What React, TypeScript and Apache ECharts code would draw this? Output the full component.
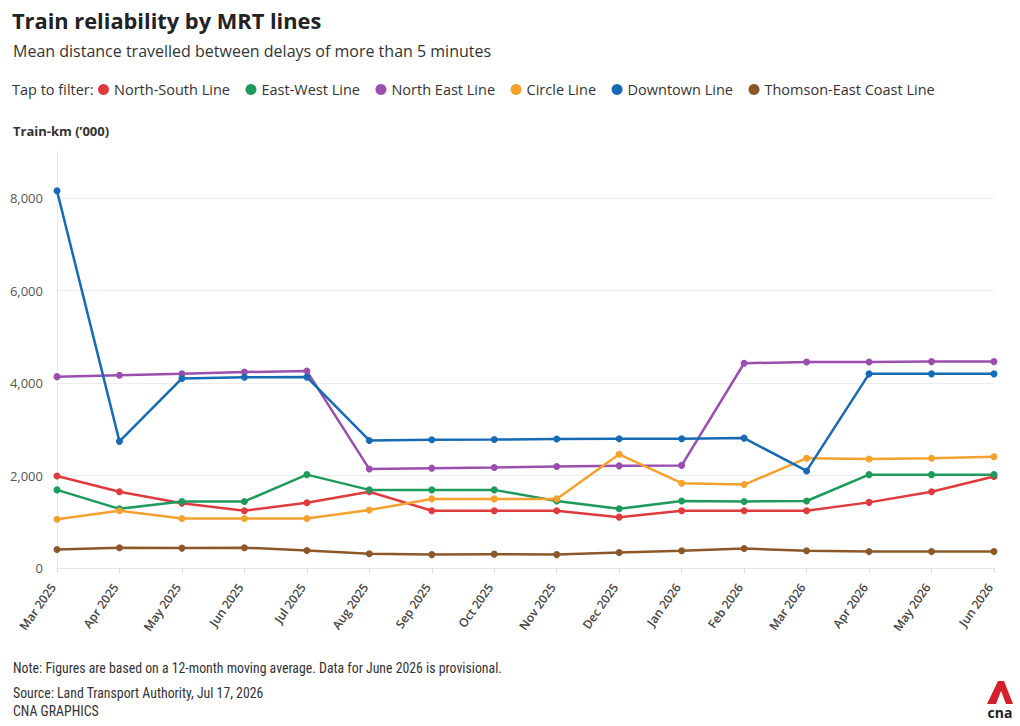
import { useEffect, useRef } from "react";
import * as echarts from "echarts";

const months = [
  "Mar 2025", "Apr 2025", "May 2025", "Jun 2025", "Jul 2025", "Aug 2025", "Sep 2025", "Oct 2025",
  "Nov 2025", "Dec 2025", "Jan 2026", "Feb 2026", "Mar 2026", "Apr 2026", "May 2026", "Jun 2026",
];

const northSouth = [1990, 1650, 1400, 1240, 1410, 1650, 1240, 1240, 1240, 1100, 1240, 1240, 1240, 1420, 1650, 1980];
const eastWest = [1690, 1280, 1440, 1440, 2020, 1690, 1690, 1690, 1450, 1280, 1450, 1440, 1450, 2020, 2020, 2020];
const northEast = [4140, 4170, 4200, 4240, 4260, 2140, 2160, 2175, 2195, 2210, 2220, 4430, 4455, 4455, 4465, 4465];
const circle = [1055, 1240, 1070, 1070, 1070, 1255, 1495, 1495, 1495, 2460, 1835, 1805, 2375, 2360, 2375, 2405];
const downtown = [8160, 2740, 4100, 4125, 4130, 2760, 2775, 2780, 2790, 2795, 2795, 2810, 2100, 4200, 4200, 4200];
const thomsonEastCoast = [400, 440, 430, 440, 380, 310, 290, 300, 290, 335, 375, 420, 375, 355, 355, 355];

const seriesNames = [
  "North-South Line", "East-West Line", "North East Line", "Circle Line", "Downtown Line", "Thomson-East Coast Line",
];
const seriesValues = [northSouth, eastWest, northEast, circle, downtown, thomsonEastCoast];
const colors = ["#df3a3d", "#1d9a5c", "#9a4fae", "#f4a12e", "#166bb4", "#8c5828"];

const yTicks = { min: 0, max: 9000, interval: 2000 };

const FONT = "'Open Sans', 'Noto Sans', sans-serif";
const NARROW = "'Liberation Sans Narrow', 'Roboto Condensed', Roboto, sans-serif";

export default function App() {
  const ref = useRef<HTMLDivElement>(null);

  useEffect(() => {
    if (!ref.current) return;
    const chart = echarts.init(ref.current, undefined, { renderer: "svg" });

    chart.setOption({
      animation: false,
      backgroundColor: "#fff",
      textStyle: { fontFamily: FONT },
      color: colors,
      title: [
        { text: "Train reliability by MRT lines", left: 7, top: 4, textStyle: { fontSize: 21.8, fontWeight: "bold", color: "#222", fontFamily: FONT } },
        { text: "Mean distance travelled between delays of more than 5 minutes", left: 8, top: 38, textStyle: { fontSize: 16, fontWeight: "normal", color: "#333", fontFamily: FONT } },
        { text: "Tap to filter:", left: 7, top: 77, textStyle: { fontSize: 14.5, fontWeight: "normal", color: "#333", fontFamily: FONT } },
        { text: "Train-km (’000)", left: 8, top: 119, textStyle: { fontSize: 13, fontWeight: "bold", color: "#333", fontFamily: FONT } },
        { text: "Note: Figures are based on a 12-month moving average. Data for June 2026 is provisional.", left: 8, top: 656, textStyle: { fontSize: 13.8, fontWeight: "normal", color: "#333", fontFamily: NARROW } },
        { text: "Source: Land Transport Authority, Jul 17, 2026", left: 8, top: 681, textStyle: { fontSize: 13.8, fontWeight: "normal", color: "#333", fontFamily: NARROW } },
        { text: "CNA GRAPHICS", left: 8, top: 699, textStyle: { fontSize: 13.8, fontWeight: "normal", color: "#333", fontFamily: NARROW } },
      ],
      legend: {
        left: 93,
        top: 77,
        icon: "circle",
        itemWidth: 11,
        itemHeight: 11,
        itemGap: 15.5,
        textStyle: { fontSize: 14.5, color: "#333", fontFamily: FONT },
        data: seriesNames,
      },
      grid: { left: 57, right: 26, top: 152, bottom: 158 },
      xAxis: {
        type: "category",
        data: months,
        boundaryGap: false,
        axisLine: { lineStyle: { color: "#e4e4e4" } },
        axisTick: { show: true, length: 5, lineStyle: { color: "#dcdcdc" } },
        axisLabel: { rotate: 55, fontSize: 12, fontWeight: 600, color: "#444", margin: 11, padding: [0, 7, 0, 0], interval: 0, fontFamily: FONT },
        splitLine: { show: false },
      },
      yAxis: {
        type: "value",
        min: yTicks.min,
        max: yTicks.max,
        interval: yTicks.interval,
        axisLine: { show: true, lineStyle: { color: "#e8e8e8" } },
        axisTick: { show: false },
        axisLabel: {
          fontSize: 13,
          color: "#555",
          margin: 14,
          fontFamily: FONT,
          formatter: (v: number) => (v % yTicks.interval === 0 ? v.toLocaleString("en-US") : ""),
        },
        splitLine: { lineStyle: { color: ["#ececec", "#ececec", "#ececec", "#ececec", "#ececec", "rgba(0,0,0,0)"] } },
      },
      series: seriesNames.map((name, i) => ({
        name,
        type: "line",
        data: seriesValues[i],
        symbol: "circle",
        symbolSize: 7,
        lineStyle: { width: 2.5 },
        itemStyle: { color: colors[i] },
      })),
      graphic: [
        {
          type: "polygon",
          shape: { points: [[998, 681], [1004, 681], [1013, 704], [1006, 704], [1001, 691], [996, 704], [987, 704]] },
          style: { fill: "#d3202a" },
        },
        {
          type: "text",
          x: 1000,
          y: 705,
          style: { text: "cna", fontSize: 14, fontWeight: "bold", fill: "#222", align: "center", fontFamily: FONT },
        },
      ],
    });

    return () => chart.dispose();
  }, []);

  return <div ref={ref} style={{ position: "fixed", left: 0, top: 0, width: 1020, height: 726 }} />;
}
